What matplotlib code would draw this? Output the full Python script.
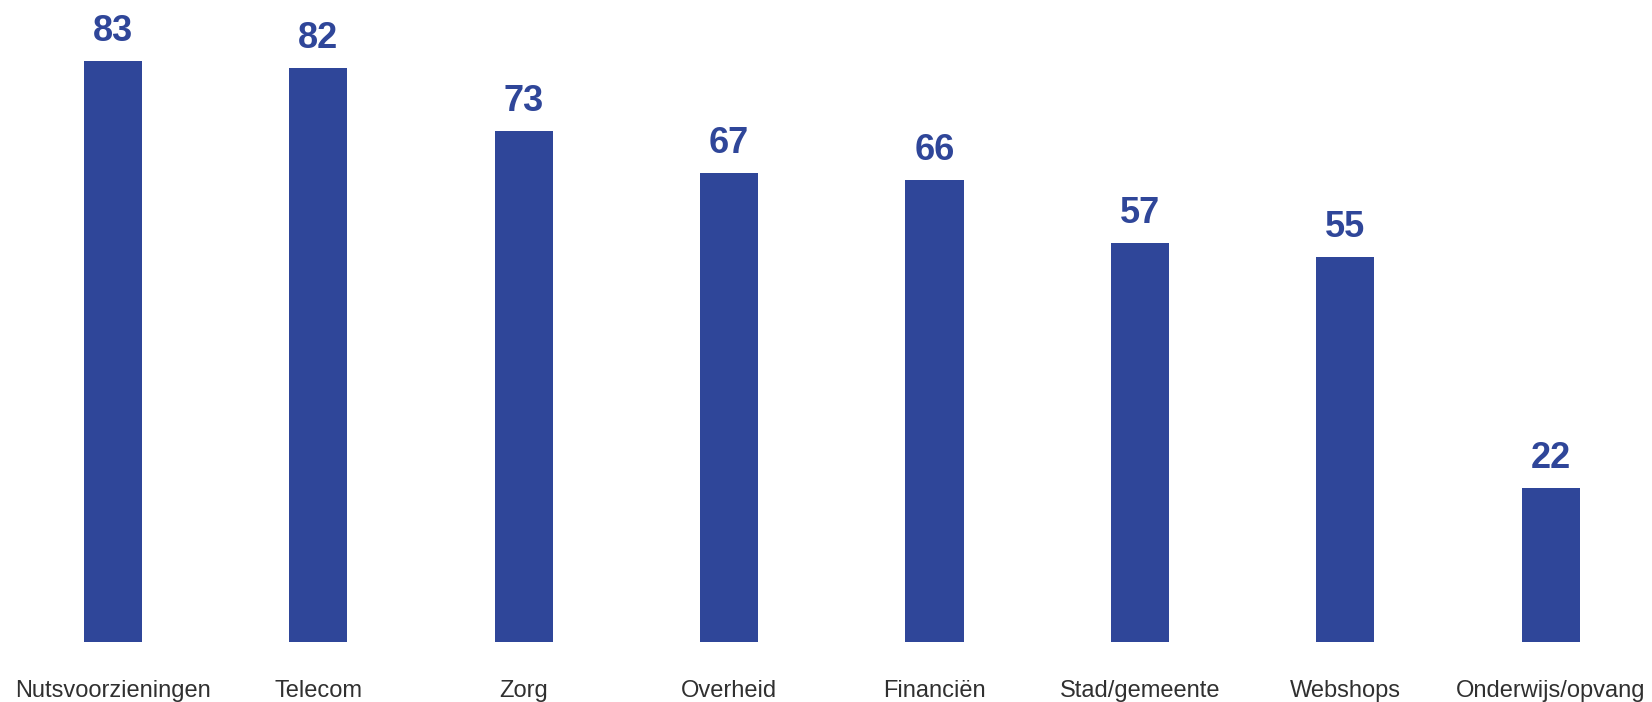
import matplotlib
matplotlib.use("Agg")
import matplotlib.pyplot as plt

categories = ["Nutsvoorzieningen", "Telecom", "Zorg", "Overheid", "Financiën",
              "Stad/gemeente", "Webshops", "Onderwijs/opvang"]
values = [83, 82, 73, 67, 66, 57, 55, 22]

bar_color = "#2F4699"
text_color = "#303030"

plt.rcParams['font.family'] = ['Liberation Sans', 'DejaVu Sans']

fig = plt.figure(figsize=(16.52, 7.02), dpi=100)
ax = fig.add_axes([0, 60 / 702, 1, 642 / 702])

x = list(range(len(categories)))
ax.bar(x, values, width=0.283, color=bar_color)

for xi, v in zip(x, values):
    ax.annotate(str(v), xy=(xi, v), xytext=(0, 14.2), textcoords="offset points",
                ha="center", va="baseline", fontsize=26, fontweight="bold",
                color=bar_color)

ax.set_xlim(-0.55, 7.493)
ax.set_ylim(0, 91.7)
ax.set_xticks(x)
ax.set_xticklabels(categories, fontsize=17, color=text_color, va="baseline")
ax.tick_params(axis="x", length=0, pad=39.4)
ax.set_yticks([])
for s in ax.spines.values():
    s.set_visible(False)

fig.savefig("out.png", dpi=100)
